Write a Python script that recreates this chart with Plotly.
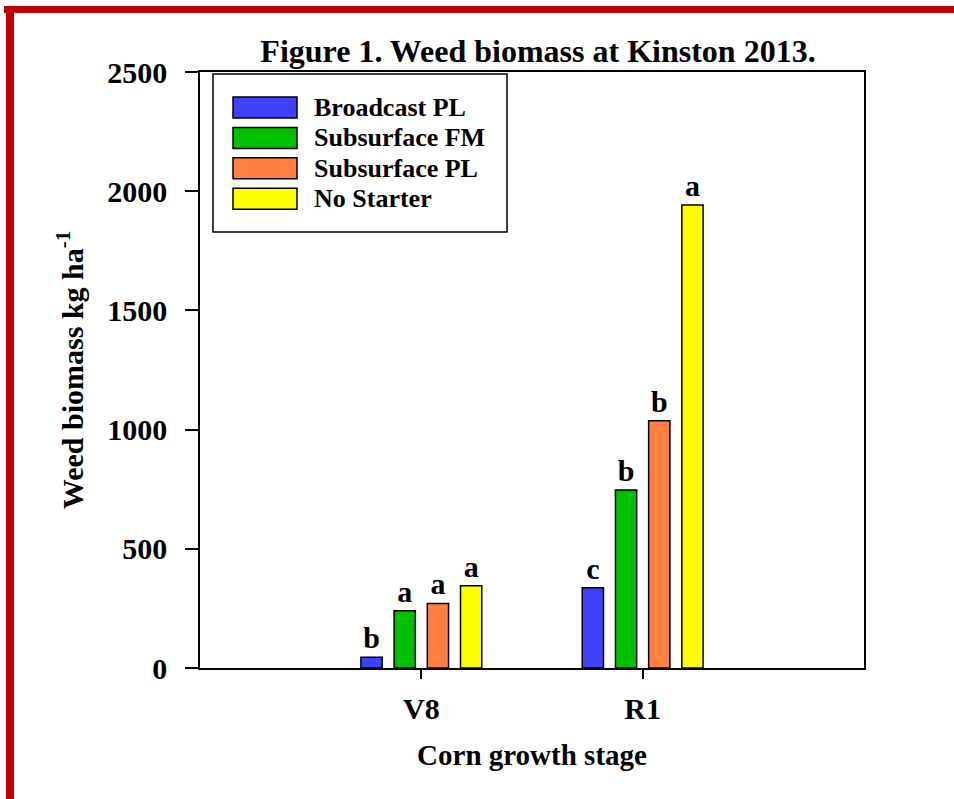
import plotly.graph_objects as go

# ---- data ----
stages = ["V8", "R1"]
series_names = ["Broadcast PL", "Subsurface FM", "Subsurface PL", "No Starter"]
series_colors = ["#4040FF", "#00C000", "#FF8040", "#FFFF00"]
broadcast_pl = [45, 337]
subsurface_fm = [240, 747]
subsurface_pl = [271, 1037]
no_starter = [345, 1942]
letters_broadcast_pl = ["b", "c"]
letters_subsurface_fm = ["a", "b"]
letters_subsurface_pl = ["a", "b"]
letters_no_starter = ["a", "a"]
y_ticks = [0, 500, 1000, 1500, 2000, 2500]

values = [broadcast_pl, subsurface_fm, subsurface_pl, no_starter]
letters = [letters_broadcast_pl, letters_subsurface_fm, letters_subsurface_pl, letters_no_starter]

FONT = "Liberation Serif"
W, H = 954, 799
L, R, T, B = 200, 90, 72, 131
PW, PH = W - L - R, H - T - B


def px(x):
    return (x - L) / PW


def py(y):
    return (H - B - y) / PH


fig = go.Figure()
for name, col, vals, lets in zip(series_names, series_colors, values, letters):
    fig.add_trace(go.Bar(
        x=stages, y=vals, name=name,
        marker=dict(color=col, line=dict(color="black", width=1.5)),
        text=lets, textposition="outside", constraintext="none",
        textfont=dict(family=FONT, size=30, color="black", weight="bold"),
        cliponaxis=False, showlegend=False,
    ))

shapes = []
annotations = []
# legend box
shapes.append(dict(type="rect", xref="paper", yref="paper",
                   x0=px(213), x1=px(507), y0=py(232), y1=py(74),
                   line=dict(color="black", width=1.5), fillcolor="white", layer="above"))
for i, (name, col) in enumerate(zip(series_names, series_colors)):
    cy = 107.5 + i * 30.4
    shapes.append(dict(type="rect", xref="paper", yref="paper",
                       x0=px(233), x1=px(297), y0=py(cy + 10.5), y1=py(cy - 10.5),
                       line=dict(color="black", width=1.5), fillcolor=col, layer="above"))
    annotations.append(dict(text=name, xref="paper", yref="paper", x=px(312), y=py(cy),
                            xanchor="left", yanchor="middle", showarrow=False,
                            font=dict(family=FONT, size=26, color="black", weight="bold")))

# red frame (page decoration)
shapes.append(dict(type="rect", xref="paper", yref="paper",
                   x0=px(4), x1=px(960), y0=py(13), y1=py(6),
                   line=dict(width=0), fillcolor="#C00000", layer="above"))
shapes.append(dict(type="rect", xref="paper", yref="paper",
                   x0=px(6), x1=px(14), y0=py(805), y1=py(6),
                   line=dict(width=0), fillcolor="#C00000", layer="above"))

fig.update_layout(
    width=W, height=H,
    margin=dict(l=L, r=R, t=T, b=B, autoexpand=False),
    paper_bgcolor="white", plot_bgcolor="white",
    font=dict(family=FONT, color="black", weight="bold"),
    barmode="group", bargap=0.4, bargroupgap=0.36,
    title=dict(text="Figure 1. Weed biomass at Kinston 2013.",
               x=538 / W, xref="container", xanchor="center",
               y=1 - 51 / H, yref="container", yanchor="middle",
               font=dict(family=FONT, size=32, color="black", weight="bold")),
    shapes=shapes, annotations=annotations,
)

fig.update_xaxes(
    type="category", categoryorder="array", categoryarray=stages,
    range=[-1, 2],
    showline=True, linecolor="black", linewidth=1.5, mirror=True,
    ticks="outside", ticklen=9, tickwidth=1.5, tickcolor="black",
    tickfont=dict(family=FONT, size=30, color="black", weight="bold"),
    ticklabelstandoff=4,
    showgrid=False, zeroline=False,
    title=dict(text="Corn growth stage", standoff=21,
               font=dict(family=FONT, size=29, color="black", weight="bold")),
)
fig.update_yaxes(
    range=[0, 2500], tickvals=y_ticks,
    showline=True, linecolor="black", linewidth=1.5, mirror=True,
    ticks="outside", ticklen=13, tickwidth=1.5, tickcolor="black",
    tickfont=dict(family=FONT, size=30, color="black", weight="bold"),
    ticklabelstandoff=12,
    showgrid=False, zeroline=False,
    title=dict(text="Weed biomass kg ha<sup>-1</sup>", standoff=15,
               font=dict(family=FONT, size=30, color="black", weight="bold")),
)

fig.write_html("out.html", config={"displayModeBar": False},
               post_script="document.body.style.margin='0';")
